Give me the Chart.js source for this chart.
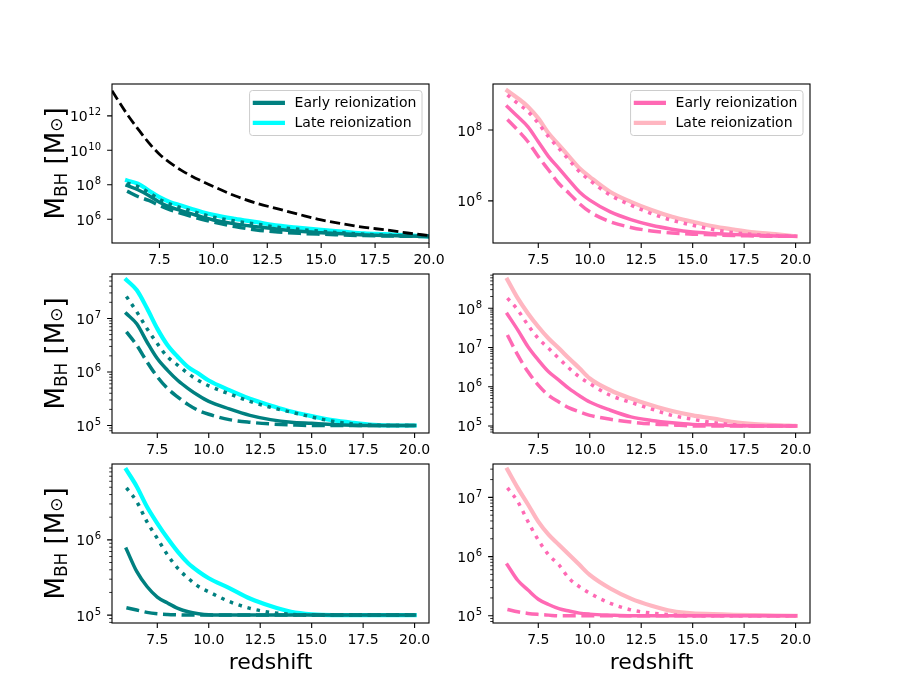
<!DOCTYPE html>
<html>
<head>
<meta charset="utf-8">
<script src="https://cdn.jsdelivr.net/npm/chart.js@4.4.0/dist/chart.umd.min.js"></script>
<style>
  html, body { margin: 0; padding: 0; background: #fff; }
  #fig { position: relative; width: 900px; height: 700px; background: #fff; overflow: hidden; }
  #fig canvas { position: absolute; }
</style>
</head>
<body>
<div id="fig"></div>
<script>
// ---- data (log10 of M_BH in solar masses) ----
const redshift = [6, 6.5, 7, 7.5, 8, 8.5, 9, 9.5, 10, 11, 12, 13, 14, 15, 16, 17, 18, 19, 20];
const redshiftLimit = [5.3, 6, 6.5, 7, 7.5, 8, 8.5, 9, 9.5, 10, 11, 12, 13, 14, 15, 16, 17, 18, 19, 20];
const xTicks = [7.5, 10, 12.5, 15, 17.5, 20];
const legendLabels = ['Early reionization', 'Late reionization'];

// top left
const limitTL = [13.46, 12.1, 11.25, 10.45, 9.77, 9.27, 8.85, 8.5, 8.19, 7.9, 7.36, 6.93, 6.60, 6.27, 5.96, 5.73, 5.53, 5.38, 5.20, 5.05];
const lateTL  = [8.25, 8.06, 7.67, 7.28, 6.99, 6.80, 6.60, 6.41, 6.25, 6.02, 5.83, 5.63, 5.50, 5.38, 5.28, 5.18, 5.13, 5.07, 5.0];
const dotTL   = [8.10, 7.90, 7.55, 7.15, 6.87, 6.67, 6.47, 6.28, 6.12, 5.89, 5.71, 5.53, 5.41, 5.30, 5.21, 5.13, 5.08, 5.04, 5.0];
const solidTL = [7.96, 7.71, 7.38, 6.99, 6.70, 6.50, 6.31, 6.12, 5.96, 5.73, 5.57, 5.42, 5.30, 5.22, 5.15, 5.09, 5.05, 5.03, 5.0];
const dashTL  = [7.63, 7.32, 7.09, 6.80, 6.54, 6.35, 6.16, 5.98, 5.83, 5.57, 5.38, 5.26, 5.18, 5.13, 5.09, 5.05, 5.03, 5.01, 5.0];
const yTicksTL = [1e6, 1e8, 1e10, 1e12];

// top right
const lateTR  = [9.11, 8.90, 8.66, 8.33, 7.91, 7.58, 7.25, 6.92, 6.68, 6.25, 5.97, 5.74, 5.55, 5.41, 5.28, 5.19, 5.11, 5.06, 5.0];
const dotTR   = [8.99, 8.75, 8.52, 8.19, 7.81, 7.48, 7.15, 6.82, 6.58, 6.16, 5.88, 5.64, 5.45, 5.31, 5.19, 5.10, 5.05, 5.02, 5.0];
const solidTR = [8.66, 8.38, 8.09, 7.67, 7.25, 6.92, 6.58, 6.25, 6.02, 5.69, 5.47, 5.31, 5.20, 5.12, 5.08, 5.05, 5.03, 5.01, 5.0];
const dashTR  = [8.30, 8.00, 7.67, 7.25, 6.87, 6.49, 6.21, 5.92, 5.69, 5.41, 5.25, 5.15, 5.09, 5.06, 5.04, 5.02, 5.01, 5.0, 5.0];
const yTicksTR = [1e6, 1e8];

// middle left
const lateML  = [7.72, 7.53, 7.19, 6.81, 6.50, 6.28, 6.09, 5.97, 5.84, 5.66, 5.50, 5.375, 5.26, 5.175, 5.10, 5.05, 5.012, 5.0, 5.0];
const dotML   = [7.41, 7.125, 6.81, 6.53, 6.28, 6.125, 5.97, 5.84, 5.74, 5.59, 5.45, 5.34, 5.25, 5.16, 5.08, 5.03, 5.006, 5.0, 5.0];
const solidML = [7.09, 6.90, 6.56, 6.25, 6.03, 5.84, 5.69, 5.56, 5.45, 5.31, 5.19, 5.11, 5.06, 5.04, 5.02, 5.006, 5.0, 5.0, 5.0];
const dashML  = [6.75, 6.50, 6.19, 5.91, 5.69, 5.53, 5.39, 5.28, 5.21, 5.11, 5.06, 5.03, 5.012, 5.0, 5.0, 5.0, 5.0, 5.0, 5.0];
const yTicksML = [1e5, 1e6, 1e7];

// middle right
const lateMR  = [8.73, 8.26, 7.87, 7.53, 7.23, 6.98, 6.72, 6.47, 6.21, 5.91, 5.70, 5.53, 5.38, 5.27, 5.19, 5.10, 5.05, 5.02, 5.0];
const dotMR   = [8.26, 7.96, 7.57, 7.23, 6.98, 6.72, 6.47, 6.25, 6.08, 5.78, 5.60, 5.43, 5.27, 5.17, 5.085, 5.03, 5.0, 5.0, 5.0];
const solidMR = [7.85, 7.45, 7.02, 6.68, 6.38, 6.17, 5.95, 5.77, 5.61, 5.40, 5.23, 5.14, 5.08, 5.04, 5.03, 5.01, 5.0, 5.0, 5.0];
const dashMR  = [7.32, 6.81, 6.38, 6.04, 5.78, 5.61, 5.46, 5.36, 5.27, 5.17, 5.10, 5.05, 5.026, 5.0, 5.0, 5.0, 5.0, 5.0, 5.0];
const yTicksMR = [1e5, 1e6, 1e7, 1e8];

// bottom left
const lateBL  = [6.93, 6.71, 6.44, 6.22, 6.02, 5.84, 5.69, 5.58, 5.49, 5.36, 5.22, 5.12, 5.044, 5.01, 5.0, 5.0, 5.0, 5.0, 5.0];
const dotBL   = [6.69, 6.51, 6.24, 6.02, 5.80, 5.62, 5.49, 5.38, 5.31, 5.18, 5.09, 5.036, 5.01, 5.0, 5.0, 5.0, 5.0, 5.0, 5.0];
const solidBL = [5.876, 5.58, 5.38, 5.24, 5.16, 5.09, 5.044, 5.018, 5.004, 5.0, 5.0, 5.0, 5.0, 5.0, 5.0, 5.0, 5.0, 5.0, 5.0];
const dashBL  = [5.098, 5.067, 5.036, 5.018, 5.009, 5.004, 5.0, 5.0, 5.0, 5.0, 5.0, 5.0, 5.0, 5.0, 5.0, 5.0, 5.0, 5.0, 5.0];
const yTicksBL = [1e5, 1e6];

// bottom right
const lateBR  = [7.47, 7.16, 6.88, 6.59, 6.37, 6.20, 6.03, 5.86, 5.69, 5.46, 5.29, 5.17, 5.08, 5.04, 5.03, 5.017, 5.01, 5.005, 5.0];
const dotBR   = [7.16, 6.93, 6.59, 6.28, 6.03, 5.86, 5.63, 5.49, 5.38, 5.21, 5.10, 5.045, 5.017, 5.0, 5.0, 5.0, 5.0, 5.0, 5.0];
const solidBR = [5.86, 5.60, 5.435, 5.28, 5.19, 5.12, 5.08, 5.045, 5.028, 5.011, 5.0, 5.0, 5.0, 5.0, 5.0, 5.0, 5.0, 5.0, 5.0];
const dashBR  = [5.107, 5.068, 5.04, 5.023, 5.011, 5.0, 5.0, 5.0, 5.0, 5.0, 5.0, 5.0, 5.0, 5.0, 5.0, 5.0, 5.0, 5.0, 5.0];
const yTicksBR = [1e5, 1e6, 1e7];

// ---- panel layout (axes boxes in page pixels, matplotlib 3x2 grid) ----
const TEAL = '#008080', CYAN = '#00ffff', HOTPINK = '#ff69b4', LIGHTPINK = '#ffb6c1';
const AX_W = 317, AX_H = 159;
const PAD_L = 110, PAD_T = 15, PAD_R = 30, PAD_B = 60;
const EARLY_W = 3.5, LATE_W = 4.2;

const panels = [
  { left: 112, top: 84,  xMax: 20,   yLog: [4.62, 13.85], ticks: yTicksTL, minor: false, early: TEAL, late: CYAN,
    tracks: [lateTL, solidTL, dotTL, dashTL], limit: limitTL, legend: true, yLabel: true, xLabel: false },
  { left: 493, top: 84,  xMax: 20.7, yLog: [4.81, 9.30], ticks: yTicksTR, minor: false, early: HOTPINK, late: LIGHTPINK,
    tracks: [lateTR, solidTR, dotTR, dashTR], legend: true, yLabel: false, xLabel: false },
  { left: 112, top: 274, xMax: 20.7, yLog: [4.86, 7.83], ticks: yTicksML, minor: true, early: TEAL, late: CYAN,
    tracks: [lateML, solidML, dotML, dashML], legend: false, yLabel: true, xLabel: false },
  { left: 493, top: 274, xMax: 20.7, yLog: [4.82, 8.875], ticks: yTicksMR, minor: true, early: HOTPINK, late: LIGHTPINK,
    tracks: [lateMR, solidMR, dotMR, dashMR], legend: false, yLabel: false, xLabel: false },
  { left: 112, top: 464, xMax: 20.7, yLog: [4.895, 7.008], ticks: yTicksBL, minor: true, early: TEAL, late: CYAN,
    tracks: [lateBL, solidBL, dotBL, dashBL], legend: false, yLabel: true, xLabel: true },
  { left: 493, top: 464, xMax: 20.7, yLog: [4.878, 7.564], ticks: yTicksBR, minor: true, early: HOTPINK, late: LIGHTPINK,
    tracks: [lateBR, solidBR, dotBR, dashBR], legend: false, yLabel: false, xLabel: true }
];

const FONT = "'DejaVu Sans', sans-serif";
Chart.defaults.font.family = FONT;
Chart.defaults.font.size = 14;
Chart.defaults.color = '#000';

function points(xs, logs) {
  return xs.map((z, i) => ({ x: z, y: Math.pow(10, logs[i]) }));
}

// ---- matplotlib-like decorations: ticks, spines, legend, axis labels ----
const mplAxes = {
  id: 'mplAxes',
  afterDraw(chart, args, opts) {
    const { ctx, chartArea: ca } = chart;
    const xs = chart.scales.x, ys = chart.scales.y;
    ctx.save();
    ctx.strokeStyle = '#000';

    ctx.lineWidth = 1.1;
    ctx.beginPath();
    xs.ticks.forEach(t => {
      const px = xs.getPixelForValue(t.value);
      ctx.moveTo(px, ca.bottom);
      ctx.lineTo(px, ca.bottom + 4.9);
    });
    ys.ticks.forEach(t => {
      const py = ys.getPixelForValue(t.value);
      ctx.moveTo(ca.left, py);
      ctx.lineTo(ca.left - 4.9, py);
    });
    ctx.stroke();

    if (opts.minor) {
      ctx.lineWidth = 0.8;
      ctx.beginPath();
      const e0 = Math.floor(Math.log10(ys.min)), e1 = Math.ceil(Math.log10(ys.max));
      for (let e = e0; e <= e1; e++) {
        for (let k = 2; k <= 9; k++) {
          const v = k * Math.pow(10, e);
          if (v < ys.min || v > ys.max) continue;
          const py = ys.getPixelForValue(v);
          ctx.moveTo(ca.left, py);
          ctx.lineTo(ca.left - 2.8, py);
        }
      }
      ctx.stroke();
    }

    // y tick labels as 10 with a raised exponent
    ctx.fillStyle = '#000';
    ctx.textBaseline = 'alphabetic';
    ctx.textAlign = 'right';
    ys.ticks.forEach(t => {
      const py = ys.getPixelForValue(t.value);
      const expo = String(Math.round(Math.log10(t.value)));
      const right = ca.left - 11;
      ctx.font = '10px ' + FONT;
      const ew = ctx.measureText(expo).width;
      ctx.fillText(expo, right, py - 0.5);
      ctx.font = '14px ' + FONT;
      ctx.fillText('10', right - ew - 0.5, py + 5.5);
    });

    // spines
    ctx.lineWidth = 1.1;
    ctx.strokeRect(ca.left, ca.top, ca.width, ca.height);

    // legend
    if (opts.legend) {
      const items = chart.data.datasets.filter(d => d.label);
      items.sort((a, b) => legendLabels.indexOf(a.label) - legendLabels.indexOf(b.label));
      ctx.font = '14px ' + FONT;
      const tw = Math.max(...items.map(d => ctx.measureText(d.label).width));
      const fw = 45 + tw + 5.6, fh = 45;
      const fx = ca.right - 7 - fw, fy = ca.top + 6.5;
      ctx.beginPath();
      ctx.roundRect(fx, fy, fw, fh, 3);
      ctx.fillStyle = 'rgba(255,255,255,0.8)';
      ctx.fill();
      ctx.strokeStyle = '#cccccc';
      ctx.lineWidth = 1;
      ctx.stroke();
      items.forEach((d, i) => {
        const cy = fy + 12.3 + i * 20;
        ctx.beginPath();
        ctx.strokeStyle = d.borderColor;
        ctx.lineWidth = LATE_W;
        ctx.lineCap = 'square';
        ctx.moveTo(fx + 5.3, cy);
        ctx.lineTo(fx + 33.3, cy);
        ctx.stroke();
        ctx.fillStyle = '#000';
        ctx.textAlign = 'left';
        ctx.textBaseline = 'middle';
        ctx.fillText(d.label, fx + 45, cy + 0.5);
      });
    }

    // y label: M_BH [M_sun]
    if (opts.yLabel) {
      const big = '26px ' + FONT, small = '17px ' + FONT;
      const pieces = [['M', big, 0], ['BH', small, 3], [' [', big, 0], ['M', big, 0], ['⊙', small, -2], [']', big, 0]];
      let total = 0;
      pieces.forEach(p => { ctx.font = p[1]; p.push(ctx.measureText(p[0]).width); total += p[3]; });
      ctx.translate(ca.left - 48, (ca.top + ca.bottom) / 2);
      ctx.rotate(-Math.PI / 2);
      ctx.fillStyle = '#000';
      ctx.textAlign = 'left';
      ctx.textBaseline = 'alphabetic';
      let cx = -total / 2;
      pieces.forEach(p => {
        ctx.font = p[1];
        ctx.fillText(p[0], cx, p[2]);
        cx += p[3];
      });
      ctx.setTransform(1, 0, 0, 1, 0, 0);
    }

    if (opts.xLabel) {
      ctx.font = '22px ' + FONT;
      ctx.fillStyle = '#000';
      ctx.textAlign = 'center';
      ctx.textBaseline = 'alphabetic';
      ctx.fillText('redshift', (ca.left + ca.right) / 2, ca.bottom + 46);
    }
    ctx.restore();
  }
};

const fig = document.getElementById('fig');

panels.forEach(p => {
  const cv = document.createElement('canvas');
  const w = AX_W + PAD_L + PAD_R, h = AX_H + PAD_T + PAD_B;
  cv.width = w;
  cv.height = h;
  cv.style.width = w + 'px';
  cv.style.height = h + 'px';
  cv.style.left = (p.left - PAD_L) + 'px';
  cv.style.top = (p.top - PAD_T) + 'px';
  fig.appendChild(cv);

  const [late, solid, dot, dash] = p.tracks;
  const common = { pointRadius: 0, fill: false, cubicInterpolationMode: 'monotone', tension: 0.3,
                   borderJoinStyle: 'round', clip: 0 };
  const datasets = [
    { ...common, data: points(redshift, dot), borderColor: p.early, borderWidth: EARLY_W,
      borderDash: [3.5, 5.8], borderCapStyle: 'butt', order: 1 },
    { ...common, data: points(redshift, dash), borderColor: p.early, borderWidth: EARLY_W,
      borderDash: [13, 5.6], borderCapStyle: 'butt', order: 2 },
    { ...common, label: legendLabels[0], data: points(redshift, solid), borderColor: p.early, borderWidth: EARLY_W,
      borderCapStyle: 'square', order: 3 },
    { ...common, label: legendLabels[1], data: points(redshift, late), borderColor: p.late, borderWidth: LATE_W,
      borderCapStyle: 'square', order: 4 }
  ];
  if (p.limit) {
    datasets.push({ ...common, data: points(redshiftLimit, p.limit), borderColor: '#000', borderWidth: 2.8,
      borderDash: [10.3, 4.4], borderCapStyle: 'butt', order: 0 });
  }

  new Chart(cv, {
    type: 'line',
    data: { datasets },
    options: {
      responsive: false,
      animation: false,
      events: [],
      devicePixelRatio: 1,
      layout: { padding: { left: 0, top: PAD_T, right: PAD_R, bottom: 0 } },
      plugins: {
        legend: { display: false },
        tooltip: { enabled: false },
        mplAxes: { minor: p.minor, legend: p.legend, yLabel: p.yLabel, xLabel: p.xLabel }
      },
      scales: {
        x: {
          type: 'linear', bounds: 'data', min: 5.3, max: p.xMax,
          grid: { display: false, drawTicks: false }, border: { display: false },
          afterBuildTicks: s => { s.ticks = xTicks.map(v => ({ value: v })); },
          afterFit: s => { s.height = PAD_B; },
          ticks: { autoSkip: false, maxRotation: 0, minRotation: 0, padding: 9,
                   callback: v => Number(v).toFixed(1) }
        },
        y: {
          type: 'logarithmic', bounds: 'data',
          min: Math.pow(10, p.yLog[0]), max: Math.pow(10, p.yLog[1]),
          grid: { display: false, drawTicks: false }, border: { display: false },
          afterBuildTicks: s => { s.ticks = p.ticks.map(v => ({ value: v })); },
          afterFit: s => { s.width = PAD_L; },
          ticks: { display: false }
        }
      }
    },
    plugins: [mplAxes]
  });
});
</script>
</body>
</html>
